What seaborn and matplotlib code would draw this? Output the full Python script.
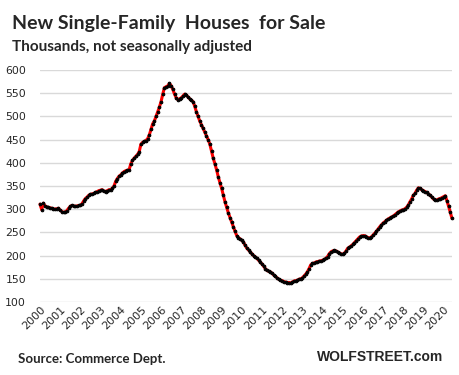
import numpy as np
import pandas as pd
import matplotlib
matplotlib.use('Agg')
import matplotlib.pyplot as plt
import seaborn as sns

# monthly, thousands, Jan 2000 .. Jun 2020
y2000 = [311, 299, 313, 307, 305, 304, 303, 302, 301, 300, 301, 302]
y2001 = [298, 295, 293, 294, 297, 302, 306, 308, 307, 306, 307, 308]
y2002 = [308, 312, 318, 323, 326, 330, 332, 333, 334, 336, 338, 340]
y2003 = [341, 342, 339, 338, 340, 342, 342, 345, 350, 360, 366, 371]
y2004 = [374, 378, 381, 383, 384, 385, 398, 405, 410, 414, 418, 424]
y2005 = [440, 444, 446, 448, 452, 460, 472, 484, 490, 500, 510, 520]
y2006 = [532, 548, 562, 564, 566, 571, 566, 558, 548, 540, 536, 538]
y2007 = [540, 544, 548, 546, 542, 538, 535, 532, 522, 510, 500, 490]
y2008 = [482, 474, 466, 458, 450, 440, 425, 410, 398, 385, 370, 357]
y2009 = [345, 330, 316, 304, 292, 282, 272, 262, 252, 243, 239, 236]
y2010 = [233, 229, 222, 216, 212, 208, 204, 200, 197, 194, 190, 186]
y2011 = [182, 177, 172, 168, 166, 165, 162, 158, 155, 152, 149, 147]
y2012 = [146, 144, 143, 142, 142, 141, 143, 145, 146, 147, 149, 150]
y2013 = [152, 156, 160, 165, 172, 180, 183, 184, 186, 187, 188, 189]
y2014 = [190, 192, 194, 198, 204, 208, 210, 211, 210, 208, 206, 204]
y2015 = [203, 205, 210, 216, 218, 221, 224, 228, 232, 236, 240, 242]
y2016 = [243, 243, 241, 239, 238, 240, 244, 248, 252, 257, 262, 266]
y2017 = [270, 273, 276, 279, 281, 283, 285, 288, 291, 294, 296, 298]
y2018 = [299, 301, 304, 309, 316, 322, 330, 334, 341, 346, 345, 342]
y2019 = [340, 338, 336, 333, 330, 326, 322, 320, 320, 322, 323, 325]
y2020 = [327, 329, 318, 306, 293, 280]

years = list(range(2000, 2021))

values = (y2000 + y2001 + y2002 + y2003 + y2004 + y2005 + y2006 + y2007
          + y2008 + y2009 + y2010 + y2011 + y2012 + y2013 + y2014 + y2015
          + y2016 + y2017 + y2018 + y2019 + y2020)
df = pd.DataFrame({'month': np.arange(len(values)), 'houses': values})

sns.set_style('white')

fig = plt.figure(figsize=(4.6, 3.75), dpi=100)
ax = fig.add_axes([40 / 460, 1 - 302 / 375, 412 / 460, 232 / 375])

sns.lineplot(data=df, x='month', y='houses', ax=ax, color='#ff0000',
             linewidth=2.2, marker='o', markersize=1.9,
             markerfacecolor='black', markeredgecolor='black', clip_on=False)

ax.set_xlim(0, len(values) - 1)
ax.set_ylim(100, 600)
ax.set_yticks(range(100, 601, 50))
ax.set_xticks([12 * i for i in range(len(years))])
ax.set_xticklabels([str(y) for y in years], rotation=45, ha='right',
                   rotation_mode='anchor', fontsize=8)
ax.tick_params(axis='y', labelsize=7.8, length=0, pad=10)
ax.tick_params(axis='x', length=0, pad=2)
ax.grid(axis='y', color='#d9d9d9', linewidth=1)
ax.set_axisbelow(True)
for s in ax.spines.values():
    s.set_visible(False)
ax.set_xlabel('')
ax.set_ylabel('')

fig.text(12 / 460, 1 - 23 / 375, 'New Single-Family  Houses  for Sale',
         fontsize=14, fontweight='bold', family='Lato', va='center')
fig.text(12 / 460, 1 - 47 / 375, 'Thousands, not seasonally adjusted',
         fontsize=11, fontweight='bold', family='Lato', va='center')
fig.text(18 / 460, 1 - 359 / 375, 'Source: Commerce Dept.',
         fontsize=9.5, fontweight='bold', family='Lato', va='center')
fig.text(443 / 460, 1 - 357 / 375, 'WOLFSTREET.com',
         fontsize=10, fontweight='bold', family='Liberation Sans',
         va='center', ha='right')

fig.savefig('out.png', dpi=100)
